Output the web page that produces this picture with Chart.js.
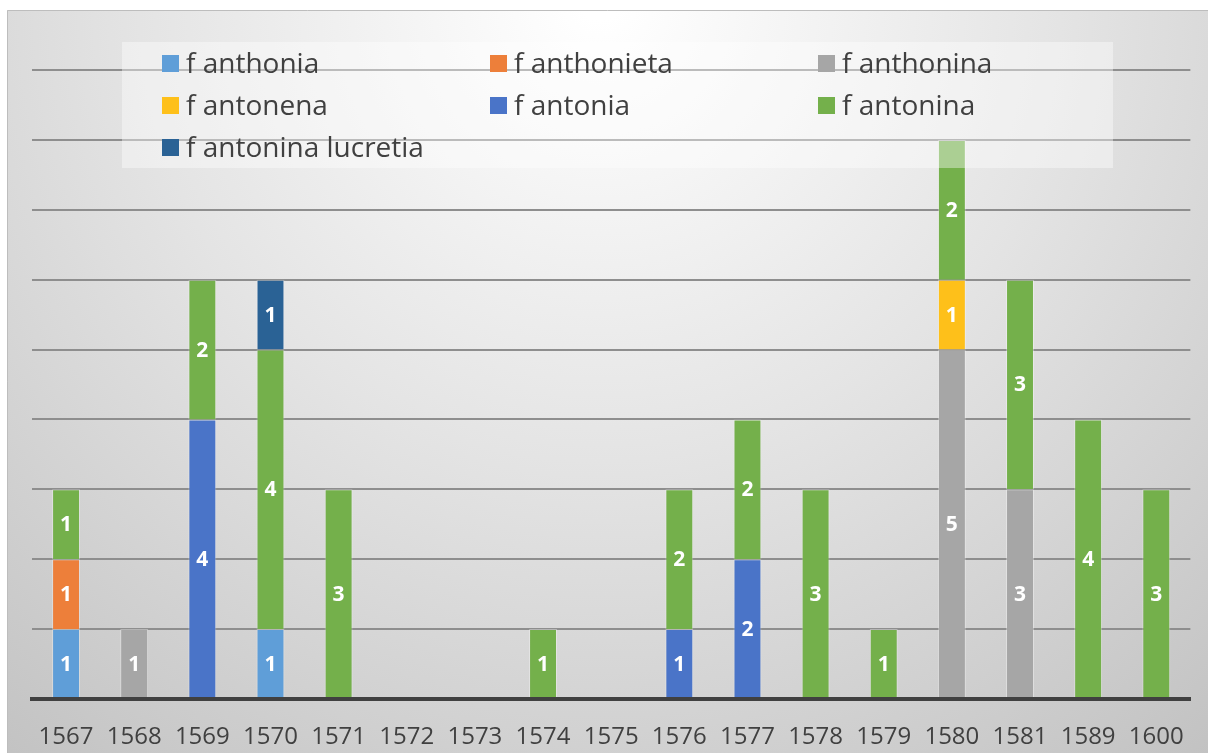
<!DOCTYPE html>
<html>
<head>
<meta charset="utf-8">
<script src="https://cdn.jsdelivr.net/npm/chart.js@4/dist/chart.umd.min.js"></script>
<style>
  html, body { margin: 0; padding: 0; background: #fff; }
  #wrap { width: 1208px; height: 753px; }
</style>
</head>
<body>
<div id="wrap"><canvas id="myChart" width="1208" height="753"></canvas></div>
<script>
// years on the x axis
let anni = ['1567', '1568', '1569', '1570', '1571', '1572', '1573', '1574', '1575',
            '1576', '1577', '1578', '1579', '1580', '1581', '1589', '1600']

// counts per name, one value per year
let anthonia         = [1, 0, 0, 1, 0, 0, 0, 0, 0, 0, 0, 0, 0, 0, 0, 0, 0]
let anthonieta       = [1, 0, 0, 0, 0, 0, 0, 0, 0, 0, 0, 0, 0, 0, 0, 0, 0]
let anthonina        = [0, 1, 0, 0, 0, 0, 0, 0, 0, 0, 0, 0, 0, 5, 3, 0, 0]
let antonena         = [0, 0, 0, 0, 0, 0, 0, 0, 0, 0, 0, 0, 0, 1, 0, 0, 0]
let antonia          = [0, 0, 4, 0, 0, 0, 0, 0, 0, 1, 2, 0, 0, 0, 0, 0, 0]
let antonina         = [1, 0, 2, 4, 3, 0, 0, 1, 0, 2, 2, 3, 1, 2, 3, 4, 3]
let antoninaLucretia = [0, 0, 0, 1, 0, 0, 0, 0, 0, 0, 0, 0, 0, 0, 0, 0, 0]

let nomi = ['f anthonia', 'f anthonieta', 'f anthonina', 'f antonena', 'f antonia', 'f antonina', 'f antonina lucretia']
let serie = [anthonia, anthonieta, anthonina, antonena, antonia, antonina, antoninaLucretia]
let colori = ['#5f9ed8', '#ed7f3a', '#a6a6a6', '#fec01a', '#4a74c8', '#74b04b', '#2a6295']

let font = '"Open Sans", "DejaVu Sans", sans-serif'

// sfondo grigio sfumato
const sfondo = {
    id: 'sfondo',
    beforeDraw(chart) {
        let c = chart.ctx
        c.save()
        c.fillStyle = '#fff'
        c.fillRect(0, 0, chart.width, chart.height)
        let g = c.createRadialGradient(600, 0, 20, 600, 0, 1000)
        g.addColorStop(0, '#ffffff')
        g.addColorStop(0.45, '#e4e4e4')
        g.addColorStop(1, '#c0c0c0')
        c.fillStyle = g
        c.fillRect(7, 10, chart.width - 7, chart.height - 10)
        c.strokeStyle = '#bdbdbd'
        c.lineWidth = 1
        c.beginPath()
        c.moveTo(7.5, chart.height)
        c.lineTo(7.5, 10.5)
        c.lineTo(chart.width, 10.5)
        c.stroke()
        c.restore()
    }
}

// etichette bianche dentro le barre
const etichette = {
    id: 'etichette',
    afterDatasetsDraw(chart) {
        let c = chart.ctx
        c.save()
        c.fillStyle = '#fff'
        c.font = 'bold 21px ' + font
        c.textAlign = 'center'
        c.textBaseline = 'middle'
        chart.data.datasets.forEach((ds, i) => {
            chart.getDatasetMeta(i).data.forEach((bar, j) => {
                let v = ds.data[j]
                if (!v) return
                c.fillText(String(v), bar.x, (bar.y + bar.base) / 2 + 1)
            })
        })
        c.restore()
    }
}

// legenda a tre colonne dentro il grafico
const legenda = {
    id: 'legenda',
    afterDatasetsDraw(chart) {
        let c = chart.ctx
        c.save()
        c.fillStyle = 'rgba(255,255,255,0.4)'
        c.fillRect(122, 42, 991, 126)
        c.font = '28px ' + font
        c.textBaseline = 'middle'
        c.textAlign = 'left'
        nomi.forEach((n, i) => {
            let col = i % 3, row = Math.floor(i / 3)
            let x = 162 + col * 328
            let y = 64 + row * 42
            c.fillStyle = colori[i]
            c.fillRect(x, y - 9, 17, 17)
            c.fillStyle = '#404040'
            c.fillText(n, x + 24, y + 1)
        })
        c.restore()
    }
}

let ctx = document.getElementById('myChart').getContext('2d')
let myChart = new Chart(ctx, {
    type: 'bar',
    data: {
        labels: anni,
        datasets: serie.map((d, i) => ({
            label: nomi[i],
            data: d,
            backgroundColor: colori[i],
            borderColor: 'rgba(255,255,255,0.35)',
            borderWidth: 1,
            categoryPercentage: 1,
            barPercentage: 0.41
        }))
    },
    options: {
        responsive: false,
        animation: false,
        layout: {
            padding: { left: 32, right: 9, top: 70, bottom: 0 }
        },
        scales: {
            x: {
                stacked: true,
                afterFit: (s) => { s.height = 54 },
                grid: { display: false, drawTicks: false },
                border: { display: true, color: '#404040', width: 4, z: 1 },
                ticks: {
                    color: '#404040',
                    font: { family: font, size: 24 },
                    padding: 24,
                    maxRotation: 0,
                    autoSkip: false
                }
            },
            y: {
                stacked: true,
                min: 0,
                max: 9,
                afterFit: (s) => { s.width = 0 },
                ticks: { display: false, stepSize: 1 },
                grid: { color: '#8e8e8e', lineWidth: 2, drawTicks: false },
                border: { display: false }
            }
        },
        plugins: {
            legend: { display: false },
            tooltip: { enabled: false }
        }
    },
    plugins: [sfondo, etichette, legenda]
})
</script>
</body>
</html>
